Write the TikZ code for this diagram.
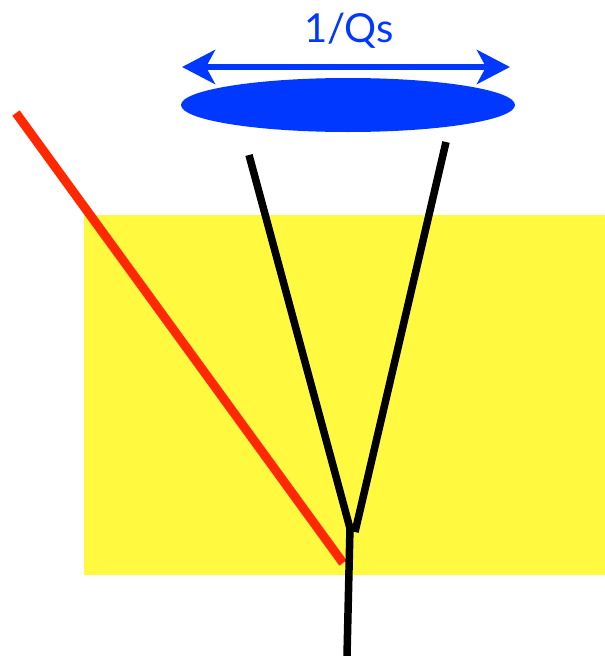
\documentclass[tikz,border=0pt]{standalone}
\usepackage{fontspec}
\setmainfont{Lato}
\usetikzlibrary{arrows.meta,shapes.geometric}
\definecolor{myyellow}{RGB}{255,250,64}
\definecolor{myred}{RGB}{255,40,0}
\definecolor{myblue}{RGB}{0,56,255}
\tikzset{
  redline/.style={myred, line width=9pt},
  blackline/.style={black, line width=7.5pt},
  bluearrow/.style={myblue, line width=6.5pt, {Stealth[length=33pt,width=34pt,inset=9pt]}-{Stealth[length=33pt,width=34pt,inset=9pt]}},
}
\begin{document}
\begin{tikzpicture}[x=1pt,y=-1pt]
\useasboundingbox (0,0) rectangle (605,656);
\fill[myyellow] (84,215) rectangle (605,575);
\node[ellipse, fill=myblue, minimum width=334pt, minimum height=54pt, inner sep=0pt] (lens) at (348,105) {};
\coordinate (al) at (182,67);
\coordinate (ar) at (510,67);
\draw[bluearrow] (al) -- (ar);
\node[text=myblue, font=\fontsize{40}{42}\selectfont, anchor=base] (label) at (349,42) {1/Qs};
\coordinate (rt) at (16,113);
\coordinate (rb) at (343,563);
\draw[redline] (rt) -- (rb);
\coordinate (lt) at (249,155);
\coordinate (rtop) at (446,142);
\coordinate (j) at (351,532);
\coordinate (jr) at (355,532);
\coordinate (st) at (350,527);
\coordinate (sb) at (347,656);
\draw[blackline] (lt) -- (j);
\draw[blackline] (rtop) -- (jr);
\draw[blackline] (st) -- (sb);
\end{tikzpicture}
\end{document}
